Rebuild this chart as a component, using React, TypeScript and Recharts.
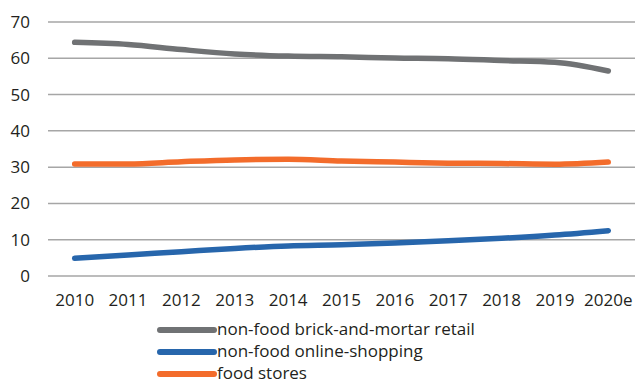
import React from 'react';
import { LineChart, Line, XAxis, YAxis, CartesianGrid, Legend } from 'recharts';

const years = ['2010', '2011', '2012', '2013', '2014', '2015', '2016', '2017', '2018', '2019', '2020e'];
const brickAndMortar = [64.4, 63.8, 62.4, 61.2, 60.6, 60.4, 60.1, 59.9, 59.4, 58.9, 56.5];
const onlineShopping = [4.9, 5.8, 6.7, 7.6, 8.3, 8.6, 9.1, 9.7, 10.4, 11.3, 12.5];
const foodStores = [30.9, 30.9, 31.5, 32.0, 32.2, 31.7, 31.4, 31.1, 31.0, 30.8, 31.4];
const yTicks = [0, 10, 20, 30, 40, 50, 60, 70];

const series = [
  { key: 'brick', name: 'non-food brick-and-mortar retail', color: '#707274' },
  { key: 'online', name: 'non-food online-shopping', color: '#2766ac' },
  { key: 'food', name: 'food stores', color: '#f36c2b' },
];

const data = years.map((year, i) => ({
  year,
  brick: brickAndMortar[i],
  online: onlineShopping[i],
  food: foodStores[i],
}));

const textColor = '#231f20';
const font = '"Open Sans", sans-serif';

const renderLegend = () => (
  <div style={{ height: 69, paddingTop: 3, boxSizing: 'border-box', fontFamily: font }}>
    {series.map(s => (
      <div key={s.key} style={{ display: 'flex', alignItems: 'center', height: 22 }}>
        <svg width={60} height={10} style={{ marginLeft: 157, flexShrink: 0 }}>
          <line x1={3} y1={5} x2={57} y2={5} stroke={s.color} strokeWidth={6} strokeLinecap="round" />
        </svg>
        <span style={{ fontSize: 17, color: textColor, lineHeight: '18px', marginTop: -2 }}>{s.name}</span>
      </div>
    ))}
  </div>
);

export default function App() {
  return (
    <div style={{ position: 'absolute', left: 0, top: 0, width: 635, height: 385, background: '#fff' }}>
      <LineChart width={635} height={385} data={data} margin={{ top: 22, right: 0, left: 0, bottom: 0 }}>
        <CartesianGrid vertical={false} stroke="#a6a6a6" strokeWidth={1.5} />
        <XAxis
          dataKey="year"
          scale="band"
          axisLine={false}
          tickLine={false}
          tickSize={0}
          tickMargin={18}
          height={40}
          interval={0}
          tick={{ fill: textColor, fontSize: 17, fontFamily: font }}
        />
        <YAxis
          domain={[0, 70]}
          ticks={yTicks}
          width={48}
          axisLine={false}
          tickLine={false}
          tickSize={0}
          tickMargin={18}
          tick={{ fill: textColor, fontSize: 17, fontFamily: font }}
        />
        <Legend verticalAlign="bottom" content={renderLegend} wrapperStyle={{ left: 0, width: 635 }} />
        {series.map(s => (
          <Line
            key={s.key}
            type="monotone"
            dataKey={s.key}
            name={s.name}
            stroke={s.color}
            strokeWidth={5.5}
            strokeLinecap="round"
            dot={false}
            activeDot={false}
            isAnimationActive={false}
          />
        ))}
      </LineChart>
    </div>
  );
}
